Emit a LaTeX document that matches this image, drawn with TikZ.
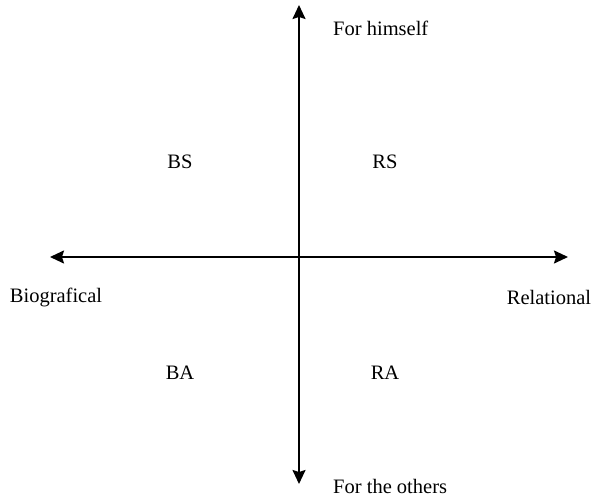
\documentclass[tikz,border=0pt]{standalone}
\usepackage{fontspec}
\setmainfont{Liberation Serif}
\usetikzlibrary{arrows.meta}
\begin{document}
\begin{tikzpicture}[x=1pt,y=-1pt,
  axis/.style={line width=1.8pt,-{Stealth[length=14pt,width=13pt,inset=2pt]}},
  lbl/.style={font=\fontsize{20.5}{24}\selectfont,inner sep=0pt}]
\useasboundingbox (0,0) rectangle (594,497);
\coordinate (o) at (299,257);
\coordinate (top) at (299,5);
\coordinate (bot) at (299,484);
\coordinate (lft) at (50,257);
\coordinate (rgt) at (568,257);
\draw[axis] (o) -- (top);
\draw[axis] (o) -- (bot);
\draw[axis] (o) -- (lft);
\draw[axis] (o) -- (rgt);
\node[lbl,anchor=west] (fh) at (333,28) {For himself};
\node[lbl,anchor=west] (fo) at (333,486) {For the others};
\node[lbl] (bs) at (180,162) {BS};
\node[lbl] (rs) at (385,162) {RS};
\node[lbl] (ba) at (180,373) {BA};
\node[lbl] (ra) at (385,373) {RA};
\node[lbl] (bio) at (56,297) {Biografical};
\node[lbl] (rel) at (549,297) {Relational};
\end{tikzpicture}
\end{document}
